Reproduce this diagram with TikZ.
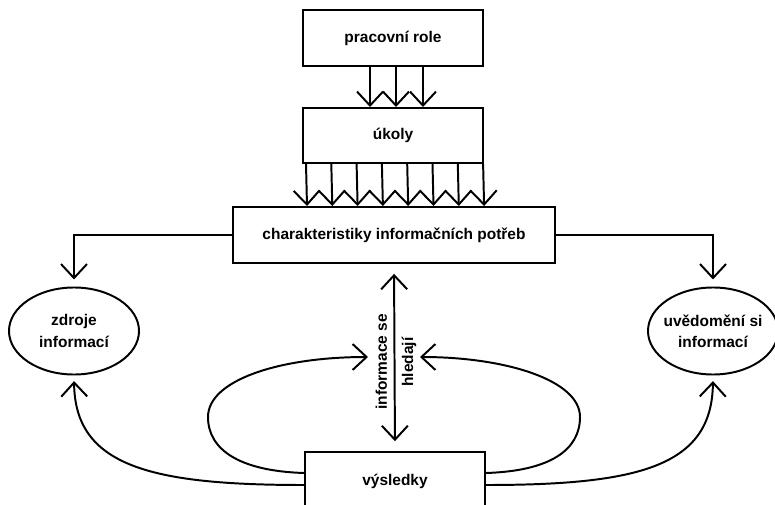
\documentclass[tikz,border=0pt]{standalone}
\usepackage{fontspec}
\setmainfont{Liberation Sans}
\usetikzlibrary{arrows.meta,calc,shapes.geometric}
\begin{document}
\begin{tikzpicture}[x=0.025cm,y=-0.025cm,line width=1.4pt,
	font=\fontsize{11}{15}\selectfont\bfseries,
	box/.style={draw,rectangle,minimum width=4.5cm,minimum height=1.4cm},
	oval/.style={draw,ellipse,align=center,inner xsep=-0.1cm,minimum width=3.25cm,minimum height=2.175cm},
	arr/.style={-{Straight Barb[length=3.5mm,width=6.5mm]}},
	darr/.style={{Straight Barb[length=3.5mm,width=6.5mm]}-{Straight Barb[length=3.5mm,width=6.5mm]}}]
	\useasboundingbox (0,0) rectangle (775,505);
	% boxes
	\node [box] (role) at (393,38) {pracovní role};
	\node [box,minimum height=1.375cm] (ukoly) at (393,135.5) {úkoly};
	\node [box,minimum width=8.05cm] (potreby) at (394,235) {charakteristiky informačních potřeb};
	\node [box,minimum height=1.45cm] (vysledky) at (395,481) {výsledky};
	\node [oval] (zdroje) at (74,331) {zdroje\\informací};
	\node [oval] (uvedomeni) at (713,331) {uvědomění si\\informací};
	\node [rotate=90,align=center,font=\fontsize{11}{18.5}\selectfont\bfseries] (hledaji) at (396,362) {informace se\\hledají};
	\coordinate (loopL) at (368,357);
	\coordinate (loopR) at (420,357);
	
	\foreach \dx in {-23,3,30}
		\draw [arr] ($(role.south)+(\dx,0)$) -- ($(ukoly.north)+(\dx,0)$);
	\foreach \i in {0,...,7}
		\draw [arr] ($(ukoly.south)+(-87+25.3*\i,0)$) -- ($(potreby.north)+(-87+25.3*\i,0)$);
	
	\draw [arr,shorten >=5pt] (potreby.west) -| (zdroje.north);
	\draw [arr,shorten >=5pt] (potreby.east) -| (uvedomeni.north);
	\draw [darr,shorten <=7pt,shorten >=7pt] (potreby.south) -- (vysledky.north);
	
	% loops
	\draw [arr] ($(vysledky.west)+(0,-8)$) .. controls (240,471) and (208,450) .. (208,417)
		.. controls (208,380) and (280,357) .. (loopL);
	\draw [arr] ($(vysledky.east)+(0,-8)$) .. controls (550,471) and (580,450) .. (580,417)
		.. controls (580,380) and (505,357) .. (loopR);
	\draw [arr,shorten >=4pt] ($(vysledky.west)+(0,4)$) .. controls +(-155,0) and +(1,90) .. (zdroje.south);
	\draw [arr,shorten >=4pt] ($(vysledky.east)+(0,4)$) .. controls +(155,0) and +(-1,90) .. (uvedomeni.south);
\end{tikzpicture}
\end{document}
